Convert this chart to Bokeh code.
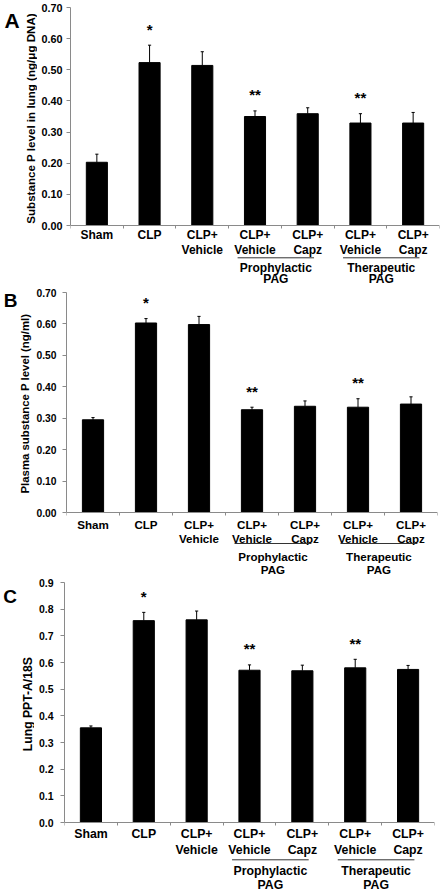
import math
from bokeh.plotting import figure
from bokeh.layouts import column, row
from bokeh.models import Range1d, FixedTicker, NumeralTickFormatter, ColumnDataSource
from bokeh.core.properties import value
from bokeh.embed import file_html
from bokeh.resources import INLINE

# ---------------- data ----------------
panel_letters = ["A", "B", "C"]
label_line1 = ["Sham", "CLP", "CLP+", "CLP+", "CLP+", "CLP+", "CLP+"]
label_line2 = ["", "", "Vehicle", "Vehicle", "Capz", "Vehicle", "Capz"]
group_line1 = ["Prophylactic", "Therapeutic"]
group_line2 = ["PAG", "PAG"]
group_first = [3, 5]
group_last = [4, 6]
significance = ["", "*", "", "**", "", "**", ""]

a_mean = [0.203, 0.523, 0.514, 0.350, 0.359, 0.329, 0.329]
a_sem = [0.026, 0.056, 0.044, 0.018, 0.019, 0.030, 0.034]
a_ticks = [0.0, 0.1, 0.2, 0.3, 0.4, 0.5, 0.6, 0.7]
a_ylabel = "Substance P level in lung (ng/μg DNA)"

b_mean = [0.295, 0.603, 0.598, 0.327, 0.338, 0.335, 0.345]
b_sem = [0.007, 0.014, 0.026, 0.008, 0.017, 0.027, 0.023]
b_ticks = [0.0, 0.1, 0.2, 0.3, 0.4, 0.5, 0.6, 0.7]
b_ylabel = "Plasma substance P level (ng/ml)"

c_mean = [0.355, 0.757, 0.760, 0.571, 0.569, 0.580, 0.574]
c_sem = [0.007, 0.031, 0.033, 0.020, 0.021, 0.032, 0.015]
c_ticks = [0.0, 0.1, 0.2, 0.3, 0.4, 0.5, 0.6, 0.7, 0.8, 0.9]
c_ylabel = "Lung PPT-A/18S"

FONT = "Liberation Sans"
AXIS_COLOR = "#8a8a8a"
TOTAL_W = 442


def bare(fig):
    fig.outline_line_color = None
    fig.background_fill_color = "white"
    fig.border_fill_color = "white"
    fig.xgrid.visible = False
    fig.ygrid.visible = False
    return fig


def make_panel(letter, mean, sem, ylabel, ticks, fmt, g):
    n = len(mean)
    xs = list(range(n))
    H = g["height"]
    sw = g["side_w"]
    main_w = TOTAL_W - sw
    ymax = ticks[-1]
    dy = ymax / g["frame_h"]                      # data units per pixel
    below = H - g["top"] - g["frame_h"]           # pixels below the zero line

    # ---- main plot (frame reaches down over the category-label area) ----
    p = bare(figure(width=main_w, height=H,
                    x_range=Range1d(-0.5, n - 0.5),
                    y_range=Range1d(-below * dy, ymax),
                    x_axis_location="above",
                    output_backend="svg", toolbar_location=None,
                    min_border_left=g["left"] - sw, min_border_right=g["right"],
                    min_border_top=g["top"], min_border_bottom=0))

    tops = [m + s for m, s in zip(mean, sem)]
    p.vbar(x=xs, top=mean, width=0.4, fill_color="black", line_color="black")
    p.segment(x0=xs, y0=mean, x1=xs, y1=tops, line_color="black", line_width=1)
    p.segment(x0=[x - 0.03 for x in xs], y0=tops, x1=[x + 0.03 for x in xs], y1=tops,
              line_color="black", line_width=1)

    txt = dict(text_align="center", text_baseline="middle", text_font=value(FONT),
               text_font_style="bold", text_color="black")
    star_src = ColumnDataSource(dict(x=xs, y=[t + g["star_gap"] * dy for t in tops],
                                     text=significance))
    p.text(x="x", y="y", text="text", source=star_src,
           text_font_size=value("15px"), **txt)

    # x axis drawn at y = 0, tick marks between categories pointing down
    xa = p.xaxis[0]
    bticks = [i - 0.5 for i in range(n + 1)]
    xa.fixed_location = 0
    xa.ticker = FixedTicker(ticks=bticks)
    xa.major_label_overrides = {t: "" for t in bticks}
    xa.major_label_standoff = 0
    xa.major_tick_in = 3
    xa.major_tick_out = 0
    xa.minor_tick_line_color = None
    xa.axis_line_color = AXIS_COLOR
    xa.major_tick_line_color = AXIS_COLOR

    ya = p.yaxis[0]
    ya.bounds = (0, ymax)
    ya.ticker = FixedTicker(ticks=ticks)
    ya.formatter = NumeralTickFormatter(format=fmt)
    ya.minor_tick_line_color = None
    ya.major_tick_in = 0
    ya.major_tick_out = 4
    ya.axis_line_color = AXIS_COLOR
    ya.major_tick_line_color = AXIS_COLOR
    ya.major_label_text_font = FONT
    ya.major_label_text_font_style = "bold"
    ya.major_label_text_font_size = g["tick_fs"]
    ya.major_label_text_color = "black"
    ya.major_label_standoff = g["tick_standoff"]

    # category labels, group underlines and group labels (offsets in px below zero)
    cat = dict(txt, text_font_size=value(g["cat_fs"]))
    p.text(x=xs, y=[-g["line1"] * dy] * n, text=label_line1, **cat)
    p.text(x=xs, y=[-g["line2"] * dy] * n, text=label_line2, **cat)
    gx0 = [f - 0.33 for f in group_first]
    gx1 = [l + 0.12 for l in group_last]
    gxc = [(a + b) / 2 for a, b in zip(gx0, gx1)]
    ng = len(gxc)
    p.segment(x0=gx0, x1=gx1, y0=[-g["uline"] * dy] * ng, y1=[-g["uline"] * dy] * ng,
              line_color="#333333", line_width=1)
    p.text(x=gxc, y=[-g["gline1"] * dy] * ng, text=group_line1, **cat)
    p.text(x=gxc, y=[-g["gline2"] * dy] * ng, text=group_line2, **cat)

    # ---- side strip: panel letter and y-axis title ----
    s = bare(figure(width=sw, height=H, x_range=Range1d(0, sw), y_range=Range1d(-H, 0),
                    output_backend="svg", toolbar_location=None,
                    x_axis_type=None, y_axis_type=None,
                    min_border_left=0, min_border_right=0,
                    min_border_top=0, min_border_bottom=0))
    s.text(x=[g["letter_cx"]], y=[-g["letter_cy"]], text=[letter],
           text_font_size=value(g["letter_fs"]), **txt)
    s.text(x=[g["ylab_cx"]], y=[-g["ylab_cy"]], text=[ylabel], angle=math.pi / 2,
           text_font_size=value(g["ylabel_fs"]), **txt)

    return row(s, p, spacing=0)


geo_a = dict(height=286, side_w=37, left=70, right=3, top=7, frame_h=218,
             letter_cx=11.5, letter_cy=13.5, letter_fs="21px",
             ylab_cx=30, ylab_cy=113.7, ylabel_fs="11.6px",
             tick_fs="10.8px", cat_fs="12px", tick_standoff=4, star_gap=16,
             line1=9.8, line2=24, uline=32.3, gline1=42.3, gline2=53.8)
geo_b = dict(height=290, side_w=32, left=66, right=5, top=6, frame_h=220,
             letter_cx=10, letter_cy=8.5, letter_fs="19px",
             ylab_cx=24.5, ylab_cy=113.5, ylabel_fs="11.4px",
             tick_fs="10.3px", cat_fs="11.6px", tick_standoff=6, star_gap=16,
             line1=12.3, line2=25.6, uline=31, gline1=44.3, gline2=57.3)
geo_c = dict(height=316, side_w=34, left=64, right=8, top=6, frame_h=240,
             letter_cx=9.5, letter_cy=14.3, letter_fs="19px",
             ylab_cx=27.3, ylab_cy=124, ylabel_fs="12.2px",
             tick_fs="10.5px", cat_fs="12.3px", tick_standoff=7, star_gap=16,
             line1=11.6, line2=27.3, uline=37.3, gline1=48, gline2=62.3)

pa = make_panel(panel_letters[0], a_mean, a_sem, a_ylabel, a_ticks, "0.00", geo_a)
pb = make_panel(panel_letters[1], b_mean, b_sem, b_ylabel, b_ticks, "0.00", geo_b)
pc = make_panel(panel_letters[2], c_mean, c_sem, c_ylabel, c_ticks, "0.0", geo_c)

layout = column(pa, pb, pc, spacing=0)
open("out.html", "w").write(file_html(layout, INLINE))
